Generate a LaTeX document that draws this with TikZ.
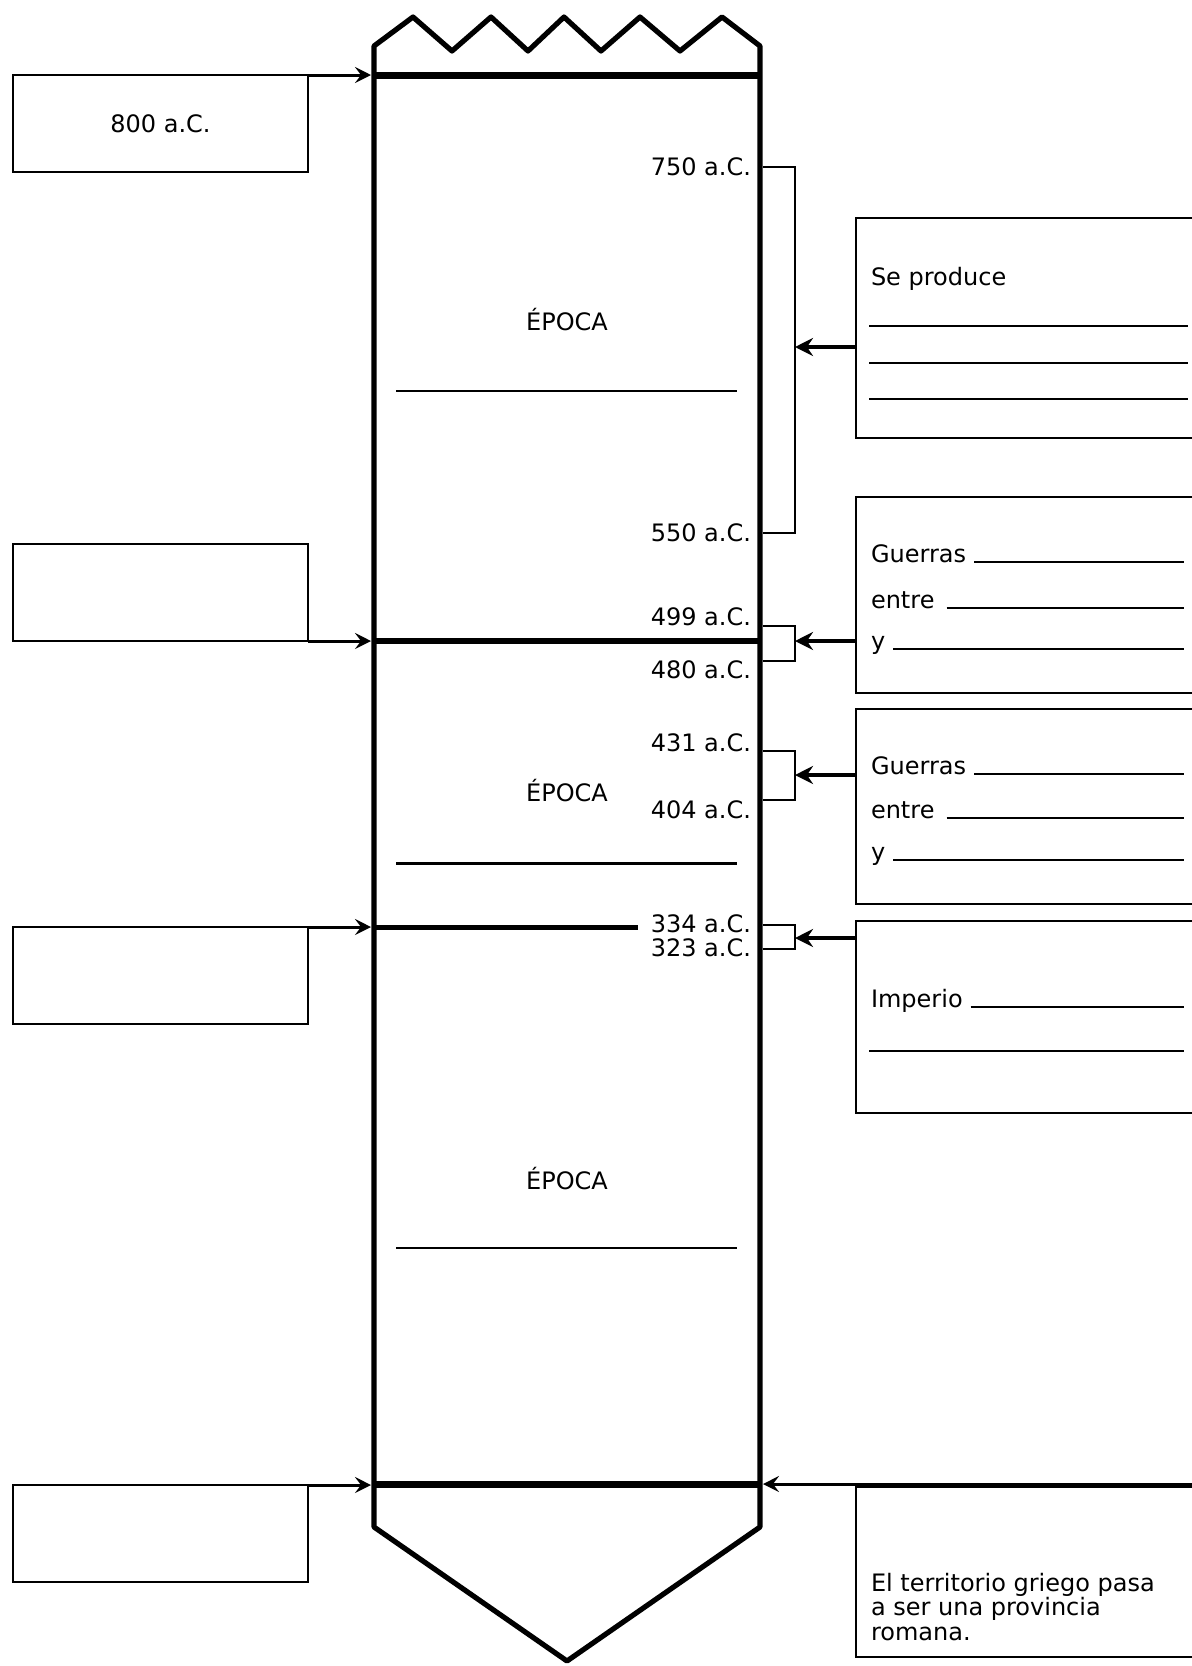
\documentclass[tikz,border=0pt]{standalone}
\usepackage{fontspec}
\setmainfont{DejaVu Sans}
\usetikzlibrary{arrows.meta}
\begin{document}
\begin{tikzpicture}[x=0.5pt,y=-0.5pt,
  every node/.style={font=\fontsize{12}{12.25}\selectfont, inner sep=0pt, outer sep=0pt},
  col/.style={line width=2.6pt, line join=round},
  bar/.style={line width=3.5pt},
  lbox/.style={draw, line width=1pt, anchor=north west, minimum width=147.5pt, minimum height=48.5pt},
  rbox/.style={draw, line width=1pt, anchor=north west, minimum width=175pt},
  brk/.style={line width=1pt},
  arr/.style={line width=1.5pt, -{Stealth[length=8pt,width=8pt,inset=3pt]}},
  rarr/.style={line width=2pt, -{Stealth[length=9pt,width=9pt,inset=3pt]}},
  date/.style={anchor=east},
  blank/.style={line width=0.8pt},
  txt/.style={anchor=base west},
]
\useasboundingbox (0,0) rectangle (1192,1666);

% column with zigzag top and pointed bottom
\draw[col] (374,1527) -- (374,46) -- (413,17) -- (452,51) -- (491,17) -- (528,51)
  -- (564,17) -- (601,51) -- (640,17) -- (680,51) -- (722,17) -- (760,46)
  -- (760,1527) -- (567,1661) -- cycle;

% horizontal bars
\draw[bar] (374,75) -- (760,75);
\draw[line width=3pt] (374,641) -- (760,641);
\draw[line width=2.5pt] (374,927) -- (638,927);
\draw[bar] (374,1484) -- (760,1484);

% epochs
\node (ep1) at (567,320) {ÉPOCA};
\draw[line width=1pt] (396,391) -- (737,391);
\node (ep2) at (567,791) {ÉPOCA};
\draw[line width=1.5pt] (396,863) -- (737,863);
\node (ep3) at (567,1179) {ÉPOCA};
\draw[line width=1pt] (396,1248) -- (737,1248);

% dates
\node[date] (d750) at (751,167) {750 a.C.};
\node[date] (d550) at (751,533) {550 a.C.};
\node[date] (d499) at (751,617) {499 a.C.};
\node[date] (d480) at (751,670) {480 a.C.};
\node[date] (d431) at (751,743) {431 a.C.};
\node[date] (d404) at (751,810) {404 a.C.};
\node[date] (d334) at (751,924) {334 a.C.};
\node[date] (d323) at (751,948) {323 a.C.};

% brackets
\draw[brk] (763,167) -- (795,167) -- (795,533) -- (763,533);
\draw[brk] (763,626) -- (795,626) -- (795,661) -- (763,661);
\draw[brk] (763,751) -- (795,751) -- (795,800) -- (763,800);
\draw[brk] (763,925) -- (795,925) -- (795,949) -- (763,949);
\coordinate (k1) at (795,347);
\coordinate (k2) at (795,641);
\coordinate (k3) at (795,775);
\coordinate (k4) at (795,938);

% left boxes
\node[lbox] (lb1) at (13,75) {800 a.C.};
\node[lbox] (lb2) at (13,544) {};
\node[lbox] (lb3) at (13,927) {};
\node[lbox] (lb4) at (13,1485) {};
\coordinate (L1) at (371,75);
\coordinate (L2) at (371,641);
\coordinate (L3) at (371,927);
\coordinate (L4) at (371,1485);
\draw[arr] (lb1.north east) -- (L1);
\draw[arr] (lb2.south east) -- (L2);
\draw[arr] (lb3.north east) -- (L3);
\draw[arr] (lb4.north east) -- (L4);

% right boxes
\node[rbox, minimum height=110pt] (se) at (856,218) {};
\node[rbox, minimum height=98pt] (g1) at (856,497) {};
\node[rbox, minimum height=97.5pt] (g2) at (856,709) {};
\node[rbox, minimum height=96pt] (imp) at (856,921) {};
\node[rbox, minimum height=85pt] (rom) at (856,1487) {};

\draw[rarr] (se.west |- k1) -- (k1);
\draw[rarr] (g1.west |- k2) -- (k2);
\draw[rarr] (g2.west |- k3) -- (k3);
\draw[rarr] (imp.west |- k4) -- (k4);
\coordinate (E8) at (1192,1484);
\coordinate (R8) at (763,1484);
\draw[arr] (E8) -- (R8);

% Se produce
\node[txt] (sp) at (871,285) {Se produce};
\draw[blank] (869,326) -- (1188,326);
\draw[line width=1.2pt] (869,363) -- (1188,363);
\draw[blank] (869,399) -- (1188,399);

% Guerras 1
\node[txt] (g1a) at (871,562) {Guerras};
\node[txt] (g1b) at (871,608) {entre};
\node[txt] (g1c) at (871,649) {y};
\draw[blank] ([xshift=4pt]g1a.base east) -- (1184,562);
\draw[blank] ([xshift=6pt]g1b.base east) -- (1184,608);
\draw[blank] ([xshift=4pt]g1c.base east) -- (1184,649);

% Guerras 2
\node[txt] (g2a) at (871,774) {Guerras};
\node[txt] (g2b) at (871,818) {entre};
\node[txt] (g2c) at (871,860) {y};
\draw[blank] ([xshift=4pt]g2a.base east) -- (1184,774);
\draw[blank] ([xshift=6pt]g2b.base east) -- (1184,818);
\draw[blank] ([xshift=4pt]g2c.base east) -- (1184,860);

% Imperio
\node[txt] (ia) at (871,1007) {Imperio};
\draw[blank] ([xshift=4pt]ia.base east) -- (1184,1007);
\draw[line width=1.3pt] (869,1051) -- (1184,1051);

% Roman province
\node[anchor=north west, align=left] (rt) at (871,1573)
  {El territorio griego pasa\\a ser una provincia\\romana.};
\end{tikzpicture}
\end{document}
